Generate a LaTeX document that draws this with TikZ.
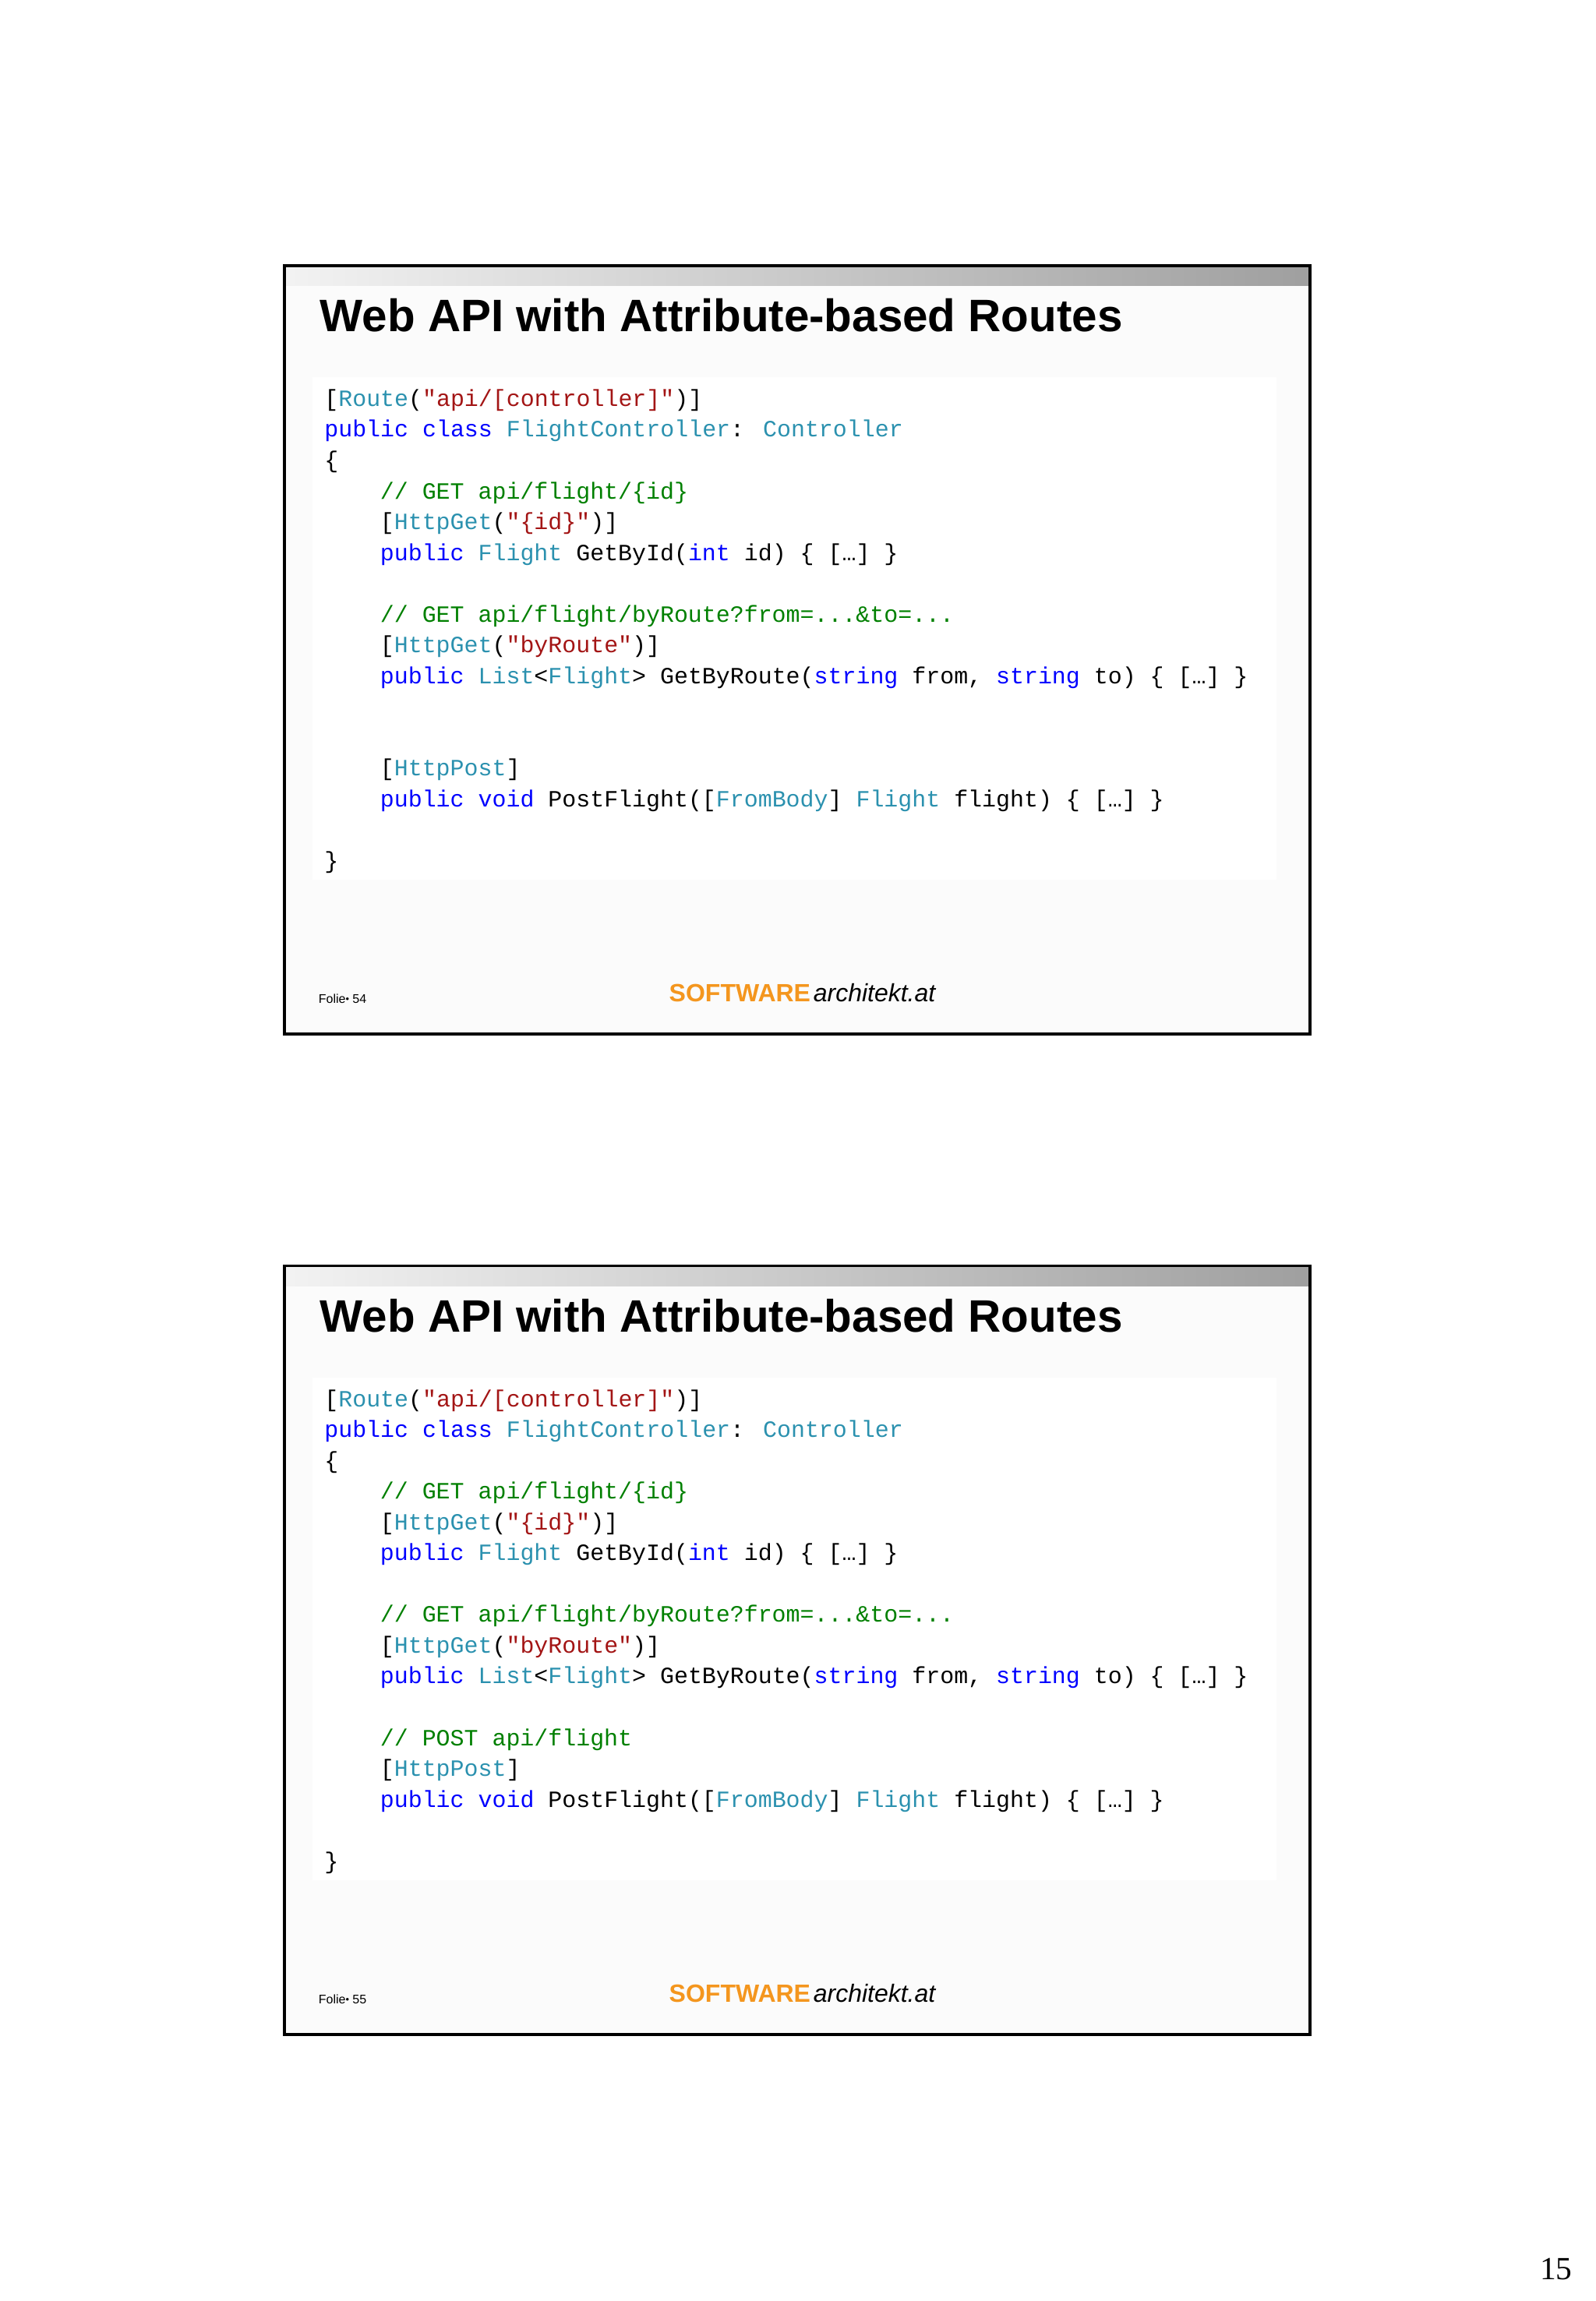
\documentclass[tikz,border=0pt]{standalone}
\usepackage{fontspec}
\setmainfont{Liberation Sans}
\newfontfamily\codefont{Liberation Mono}
\newfontfamily\pagefont{Liberation Serif}
\definecolor{kwc}{RGB}{0,0,255}
\definecolor{tyc}{RGB}{43,145,175}
\definecolor{stc}{RGB}{163,21,21}
\definecolor{cmc}{RGB}{0,128,0}
\definecolor{orng}{RGB}{244,150,30}
\newcommand\kw[1]{\textcolor{kwc}{#1}}
\newcommand\ty[1]{\textcolor{tyc}{#1}}
\newcommand\st[1]{\textcolor{stc}{#1}}
\newcommand\cm[1]{\textcolor{cmc}{#1}}
\tikzset{code/.style={anchor=base west,inner sep=0pt,font=\codefont\fontsize{15.9}{16}\selectfont},
 title/.style={anchor=base west,inner sep=0pt,font=\bfseries\fontsize{31}{32}\selectfont},
 frame/.style={draw=black,line width=2pt}}
\newcommand\myslide[3]{%
\begin{scope}[shift={(0,#1)}]
\shade[left color=gray!10,right color=gray!75] (195,182) rectangle (892,195);
\fill[white!97!gray] (195,195) rectangle (892,704);
\fill[white] (213,257) rectangle (870,600);
\draw[frame] (194,181) rectangle (893,705);
\node[title] (t#2) at (218,226) {Web API with Attribute-based Routes};
\node[code] (a#2) at (221,277) {[\ty{Route}(\st{"api/[controller]"})]};
\node[code] (b#2) at (221,298) {\kw{public} \kw{class} \ty{FlightController}: \ty{Controller}};
\node[code] (c#2) at (221,319) {\{};
\node[code] (d#2) at (259,340) {\cm{// GET api/flight/\{id\}}};
\node[code] (e#2) at (259,361) {[\ty{HttpGet}(\st{"\{id\}"})]};
\node[code] (f#2) at (259,382) {\kw{public} \ty{Flight} GetById(\kw{int} id) \{ […] \}};
\node[code] (g#2) at (259,424) {\cm{// GET api/flight/byRoute?from=...\&to=...}};
\node[code] (h#2) at (259,445) {[\ty{HttpGet}(\st{"byRoute"})]};
\node[code] (i#2) at (259,466) {\kw{public} \ty{List}<\ty{Flight}> GetByRoute(\kw{string} from, \kw{string} to) \{ […] \}};
#3
\node[code] (k#2) at (259,529) {[\ty{HttpPost}]};
\node[code] (l#2) at (259,550) {\kw{public} \kw{void} PostFlight([\ty{FromBody}] \ty{Flight} flight) \{ […] \}};
\node[code] (m#2) at (221,592) {\}};
\node[anchor=base west,inner sep=0pt,font=\fontsize{8.5}{9}\selectfont] (p#2) at (217,684) {Folie\raisebox{0.5pt}{\scalebox{0.8}{\textbullet}} #2};
\node[anchor=base west,inner sep=0pt,font=\fontsize{17}{18}\selectfont] (s#2) at (456,683) {\textcolor{orng}{\bfseries SOFTWARE}\hspace{2pt}\textit{architekt.at}};
\end{scope}}
\begin{document}
\begin{tikzpicture}[x=1pt,y=-1pt]
\useasboundingbox (0,0) rectangle (1088,1568.8);
\fill[white] (0,0) rectangle (1088,1568.8);
\myslide{0}{54}{}
\myslide{682}{55}{\node[code] (j55) at (259,508) {\cm{// POST api/flight}};}
\node[anchor=base east,inner sep=0pt,font=\pagefont\fontsize{22}{22}\selectfont] (pg) at (1072,1554) {15};
\end{tikzpicture}
\end{document}
